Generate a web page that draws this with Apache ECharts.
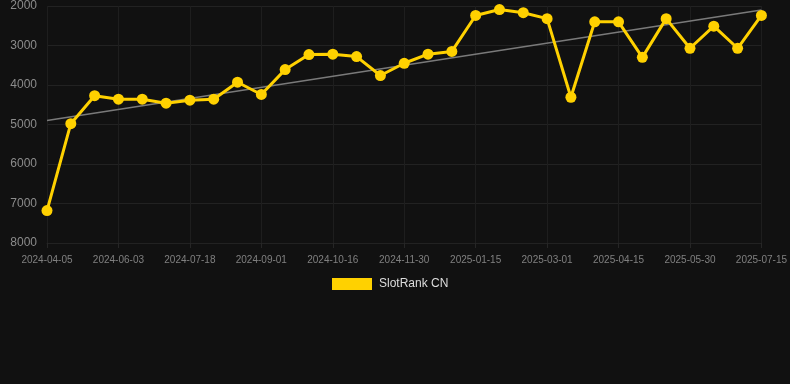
<!DOCTYPE html>
<html><head><meta charset="utf-8">
<script src="https://cdn.jsdelivr.net/npm/echarts@6/dist/echarts.min.js"></script>
<style>html,body{margin:0;padding:0;background:#111111;}#c{width:790px;height:384px;}</style>
</head><body><div id="c"></div>
<script>
const categories = ["2024-04-05","2024-04-25","2024-05-14","2024-06-03","2024-06-18","2024-07-03","2024-07-18","2024-08-02","2024-08-17","2024-09-01","2024-09-16","2024-10-01","2024-10-16","2024-10-31","2024-11-15","2024-11-30","2024-12-15","2024-12-30","2025-01-15","2025-01-30","2025-02-14","2025-03-01","2025-03-16","2025-03-31","2025-04-15","2025-04-30","2025-05-15","2025-05-30","2025-06-14","2025-06-29","2025-07-15"];
const rankValues = [7180,4980,4270,4360,4360,4460,4385,4360,3930,4240,3610,3230,3220,3280,3760,3450,3220,3150,2240,2090,2170,2320,4310,2400,2400,3300,2320,3070,2510,3070,2240];
const trendValues = [4900, 2100];
const yTicks = [2000,3000,4000,5000,6000,7000,8000];
const seriesName = "SlotRank CN";

const chart = echarts.init(document.getElementById('c'));
chart.setOption({
  backgroundColor: '#111111',
  animation: false,
  grid: {left: 47, right: 28, top: 6, bottom: 141},
  legend: {
    data: [seriesName], top: 273, left: 327,
    itemWidth: 40, itemHeight: 12, icon: 'rect', itemGap: 10,
    textStyle: {color: '#dddddd', fontSize: 12, padding: [0, 0, 0, 2], fontFamily: 'Liberation Sans, Arial, sans-serif'}
  },
  xAxis: {
    type: 'category', data: categories, boundaryGap: false,
    axisLine: {show: true, lineStyle: {color: '#222222'}},
    axisTick: {show: true, interval: 2, lineStyle: {color: '#262626'}},
    axisLabel: {interval: 2, color: '#808080', fontSize: 10, margin: 12, fontFamily: 'Liberation Sans, Arial, sans-serif'},
    splitLine: {show: true, interval: 2, lineStyle: {color: '#1e1e1e'}}
  },
  yAxis: {
    type: 'value', inverse: true, min: yTicks[0], max: yTicks[yTicks.length-1], interval: 1000,
    axisLine: {show: false}, axisTick: {show: false},
    axisLabel: {color: '#8c8c8c', fontSize: 12, margin: 10, formatter: v => String(v), fontFamily: 'Liberation Sans, Arial, sans-serif'},
    splitLine: {show: true, lineStyle: {color: '#222222'}}
  },
  series: [
    {
      name: 'trend', type: 'line', silent: true,
      data: [[categories[0], trendValues[0]], [categories[categories.length-1], trendValues[1]]],
      symbol: 'none', lineStyle: {color: '#7a7a7a', width: 1.5}, z: 1
    },
    {
      name: seriesName, type: 'line', data: rankValues,
      symbol: 'circle', symbolSize: 11,
      itemStyle: {color: '#FFD100'},
      lineStyle: {color: '#FFD100', width: 3}, z: 2
    }
  ]
});
</script></body></html>
